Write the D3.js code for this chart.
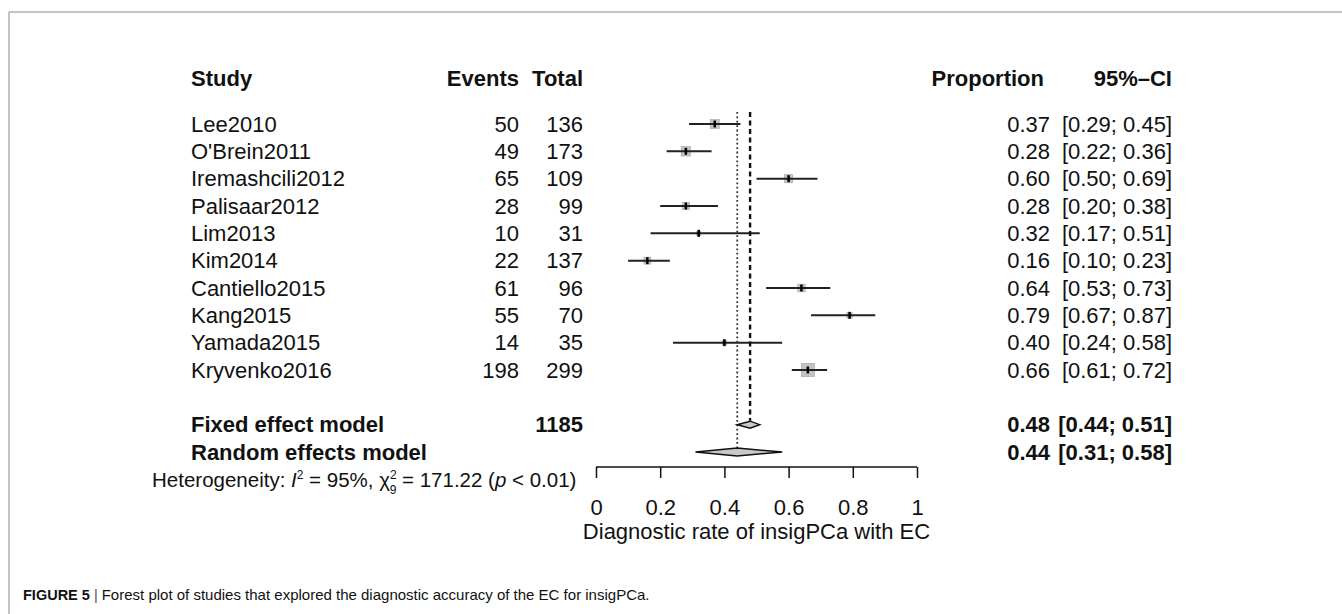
<!DOCTYPE html>
<html>
<head>
<meta charset="utf-8">
<script src="https://cdn.jsdelivr.net/npm/d3@7"></script>
<style>
  body { margin: 0; background: #fff; }
  text { font-family: "Liberation Sans", Arial, Helvetica, sans-serif; fill: #111; }
</style>
</head>
<body>
<div id="chart"></div>
<script>
// study level data
const studies = ["Lee2010", "O'Brein2011", "Iremashcili2012", "Palisaar2012", "Lim2013",
                 "Kim2014", "Cantiello2015", "Kang2015", "Yamada2015", "Kryvenko2016"];
const events = [50, 49, 65, 28, 10, 22, 61, 55, 14, 198];
const totals = [136, 173, 109, 99, 31, 137, 96, 70, 35, 299];
const proportions = [0.37, 0.28, 0.60, 0.28, 0.32, 0.16, 0.64, 0.79, 0.40, 0.66];
const ciLower = [0.29, 0.22, 0.50, 0.20, 0.17, 0.10, 0.53, 0.67, 0.24, 0.61];
const ciUpper = [0.45, 0.36, 0.69, 0.38, 0.51, 0.23, 0.73, 0.87, 0.58, 0.72];
const weights = [12.8, 14.1, 10.5, 8.1, 2.7, 7.5, 8.9, 4.7, 3.4, 27.2]; // square size (fixed weight, %)

// pooled estimates [estimate, lower, upper]
const fixedModel = [0.48, 0.44, 0.51];
const randomModel = [0.44, 0.31, 0.58];
const totalN = 1185;
const xTicks = [0, 0.2, 0.4, 0.6, 0.8, 1];

const width = 1342, height = 614;
const fmt = d3.format(".2f");

const svg = d3.select("#chart").append("svg")
    .attr("width", width)
    .attr("height", height);

// page frame lines
svg.append("line").attr("x1", 9).attr("x2", width).attr("y1", 12).attr("y2", 12)
    .attr("stroke", "#b0b0b0").attr("stroke-width", 1.5);
svg.append("line").attr("x1", 9).attr("x2", 9).attr("y1", 12).attr("y2", height)
    .attr("stroke", "#b0b0b0").attr("stroke-width", 1.5);

// scales
const x = d3.scaleLinear().domain([0, 1]).range([596, 917]);
const y = d3.scaleLinear().domain([0, 12]).range([124, 452]); // row index -> y
const side = d3.scaleSqrt().domain([0, 27.2]).range([0, 13]);

const fs = 22;
const colStudy = 191, colEvents = 519, colTotal = 583, colProp = 1050, colCI = 1172;

// header
const header = svg.append("g").attr("font-weight", "bold").attr("font-size", fs);
header.append("text").attr("x", colStudy).attr("y", 78).attr("dy", "0.35em").text("Study");
header.append("text").attr("x", colEvents).attr("y", 78).attr("dy", "0.35em").attr("text-anchor", "end").text("Events");
header.append("text").attr("x", colTotal).attr("y", 78).attr("dy", "0.35em").attr("text-anchor", "end").text("Total");
header.append("text").attr("x", colProp - 6).attr("y", 78).attr("dy", "0.35em").attr("text-anchor", "end").text("Proportion");
header.append("text").attr("x", colCI).attr("y", 78).attr("dy", "0.35em").attr("text-anchor", "end").text("95%\u2013CI");

// study rows
const rows = svg.append("g").attr("font-size", fs)
    .selectAll("g")
    .data(studies)
    .join("g")
    .attr("transform", (d, i) => `translate(0,${y(i)})`);

rows.append("text").attr("x", colStudy).attr("dy", "0.35em").text(d => d);
rows.append("text").attr("x", colEvents).attr("dy", "0.35em").attr("text-anchor", "end").text((d, i) => events[i]);
rows.append("text").attr("x", colTotal).attr("dy", "0.35em").attr("text-anchor", "end").text((d, i) => totals[i]);
rows.append("text").attr("x", colProp).attr("dy", "0.35em").attr("text-anchor", "end").text((d, i) => fmt(proportions[i]));
rows.append("text").attr("x", colCI).attr("dy", "0.35em").attr("text-anchor", "end")
    .text((d, i) => `[${fmt(ciLower[i])}; ${fmt(ciUpper[i])}]`);

// reference lines: dashed for fixed, dotted for random
svg.append("line")
    .attr("x1", x(fixedModel[0])).attr("x2", x(fixedModel[0]))
    .attr("y1", 112).attr("y2", y(11) - 4)
    .attr("stroke", "#111").attr("stroke-width", 2.4).attr("stroke-dasharray", "5,3.5");
svg.append("line")
    .attr("x1", x(randomModel[0])).attr("x2", x(randomModel[0]))
    .attr("y1", 112).attr("y2", y(12) - 4)
    .attr("stroke", "#333").attr("stroke-width", 1.8).attr("stroke-dasharray", "1.8,2.6");

// squares, CI lines and point markers
rows.append("rect")
    .attr("x", (d, i) => x(proportions[i]) - side(weights[i]) / 2)
    .attr("y", (d, i) => -side(weights[i]) / 2)
    .attr("width", (d, i) => side(weights[i]))
    .attr("height", (d, i) => side(weights[i]))
    .attr("fill", "#c4c4c4").attr("stroke", "#b0b0b0").attr("stroke-width", 0.8);
rows.append("line")
    .attr("x1", (d, i) => x(ciLower[i]))
    .attr("x2", (d, i) => x(ciUpper[i]))
    .attr("stroke", "#222").attr("stroke-width", 2);
rows.append("line")
    .attr("x1", (d, i) => x(proportions[i]))
    .attr("x2", (d, i) => x(proportions[i]))
    .attr("y1", -3.5).attr("y2", 3.5)
    .attr("stroke", "#000").attr("stroke-width", 2.5);

// pooled rows
const pooled = [
    { label: "Fixed effect model", n: totalN, est: fixedModel, row: 11, h: 3.5 },
    { label: "Random effects model", n: null, est: randomModel, row: 12, h: 4 }
];
const pool = svg.append("g").attr("font-size", fs).attr("font-weight", "bold")
    .selectAll("g")
    .data(pooled)
    .join("g")
    .attr("transform", d => `translate(0,${y(d.row)})`);
pool.append("text").attr("x", colStudy).attr("dy", "0.35em").text(d => d.label);
pool.append("text").attr("x", colTotal).attr("dy", "0.35em").attr("text-anchor", "end").text(d => d.n ? d.n : "");
pool.append("text").attr("x", colProp).attr("dy", "0.35em").attr("text-anchor", "end").text(d => fmt(d.est[0]));
pool.append("text").attr("x", colCI).attr("dy", "0.35em").attr("text-anchor", "end")
    .text(d => `[${fmt(d.est[1])}; ${fmt(d.est[2])}]`);
pool.append("path")
    .attr("d", d => `M${x(d.est[1])},0 L${x(d.est[0])},${-d.h} L${x(d.est[2])},0 L${x(d.est[0])},${d.h} Z`)
    .attr("fill", "#c8c8c8").attr("stroke", "#111").attr("stroke-width", 1.5);

// heterogeneity line
const het = svg.append("text").attr("x", 152).attr("y", 487).attr("font-size", 20.5);
het.append("tspan").text("Heterogeneity: ");
het.append("tspan").attr("font-style", "italic").text("I");
het.append("tspan").attr("dy", -8).attr("font-size", 12).text("2");
het.append("tspan").attr("dy", 8).text(" = 95%, \u03c7");
het.append("tspan").attr("dy", -8).attr("font-size", 12).text("2");
het.append("tspan").attr("dx", -7).attr("dy", 15).attr("font-size", 12).text("9");
het.append("tspan").attr("dy", -7).text(" = 171.22 (");
het.append("tspan").attr("font-style", "italic").text("p");
het.append("tspan").text(" < 0.01)");

// x axis
const axis = svg.append("g")
    .attr("transform", "translate(0,467)")
    .call(d3.axisBottom(x).tickValues(xTicks).tickSize(11).tickPadding(21).tickFormat(d3.format("~g")));
axis.select(".domain").attr("stroke", "#111").attr("stroke-width", 1.5).attr("d", `M${x(0)},0H${x(1)}`);
axis.selectAll(".tick line").attr("stroke", "#111").attr("stroke-width", 1.5);
axis.selectAll(".tick text").attr("font-size", fs).attr("fill", "#111")
    .attr("font-family", "Liberation Sans, Arial, sans-serif");

svg.append("text")
    .attr("x", x(0.5)).attr("y", 539)
    .attr("text-anchor", "middle").attr("font-size", fs)
    .text("Diagnostic rate of insigPCa with EC");

// caption
const cap = svg.append("text").attr("x", 23).attr("y", 600).attr("font-size", 14.5);
cap.append("tspan").attr("font-weight", "bold").text("FIGURE 5");
cap.append("tspan").attr("fill", "#555").text(" | ");
cap.append("tspan").attr("font-size", 15).text("Forest plot of studies that explored the diagnostic accuracy of the EC for insigPCa.");
</script>
</body>
</html>
